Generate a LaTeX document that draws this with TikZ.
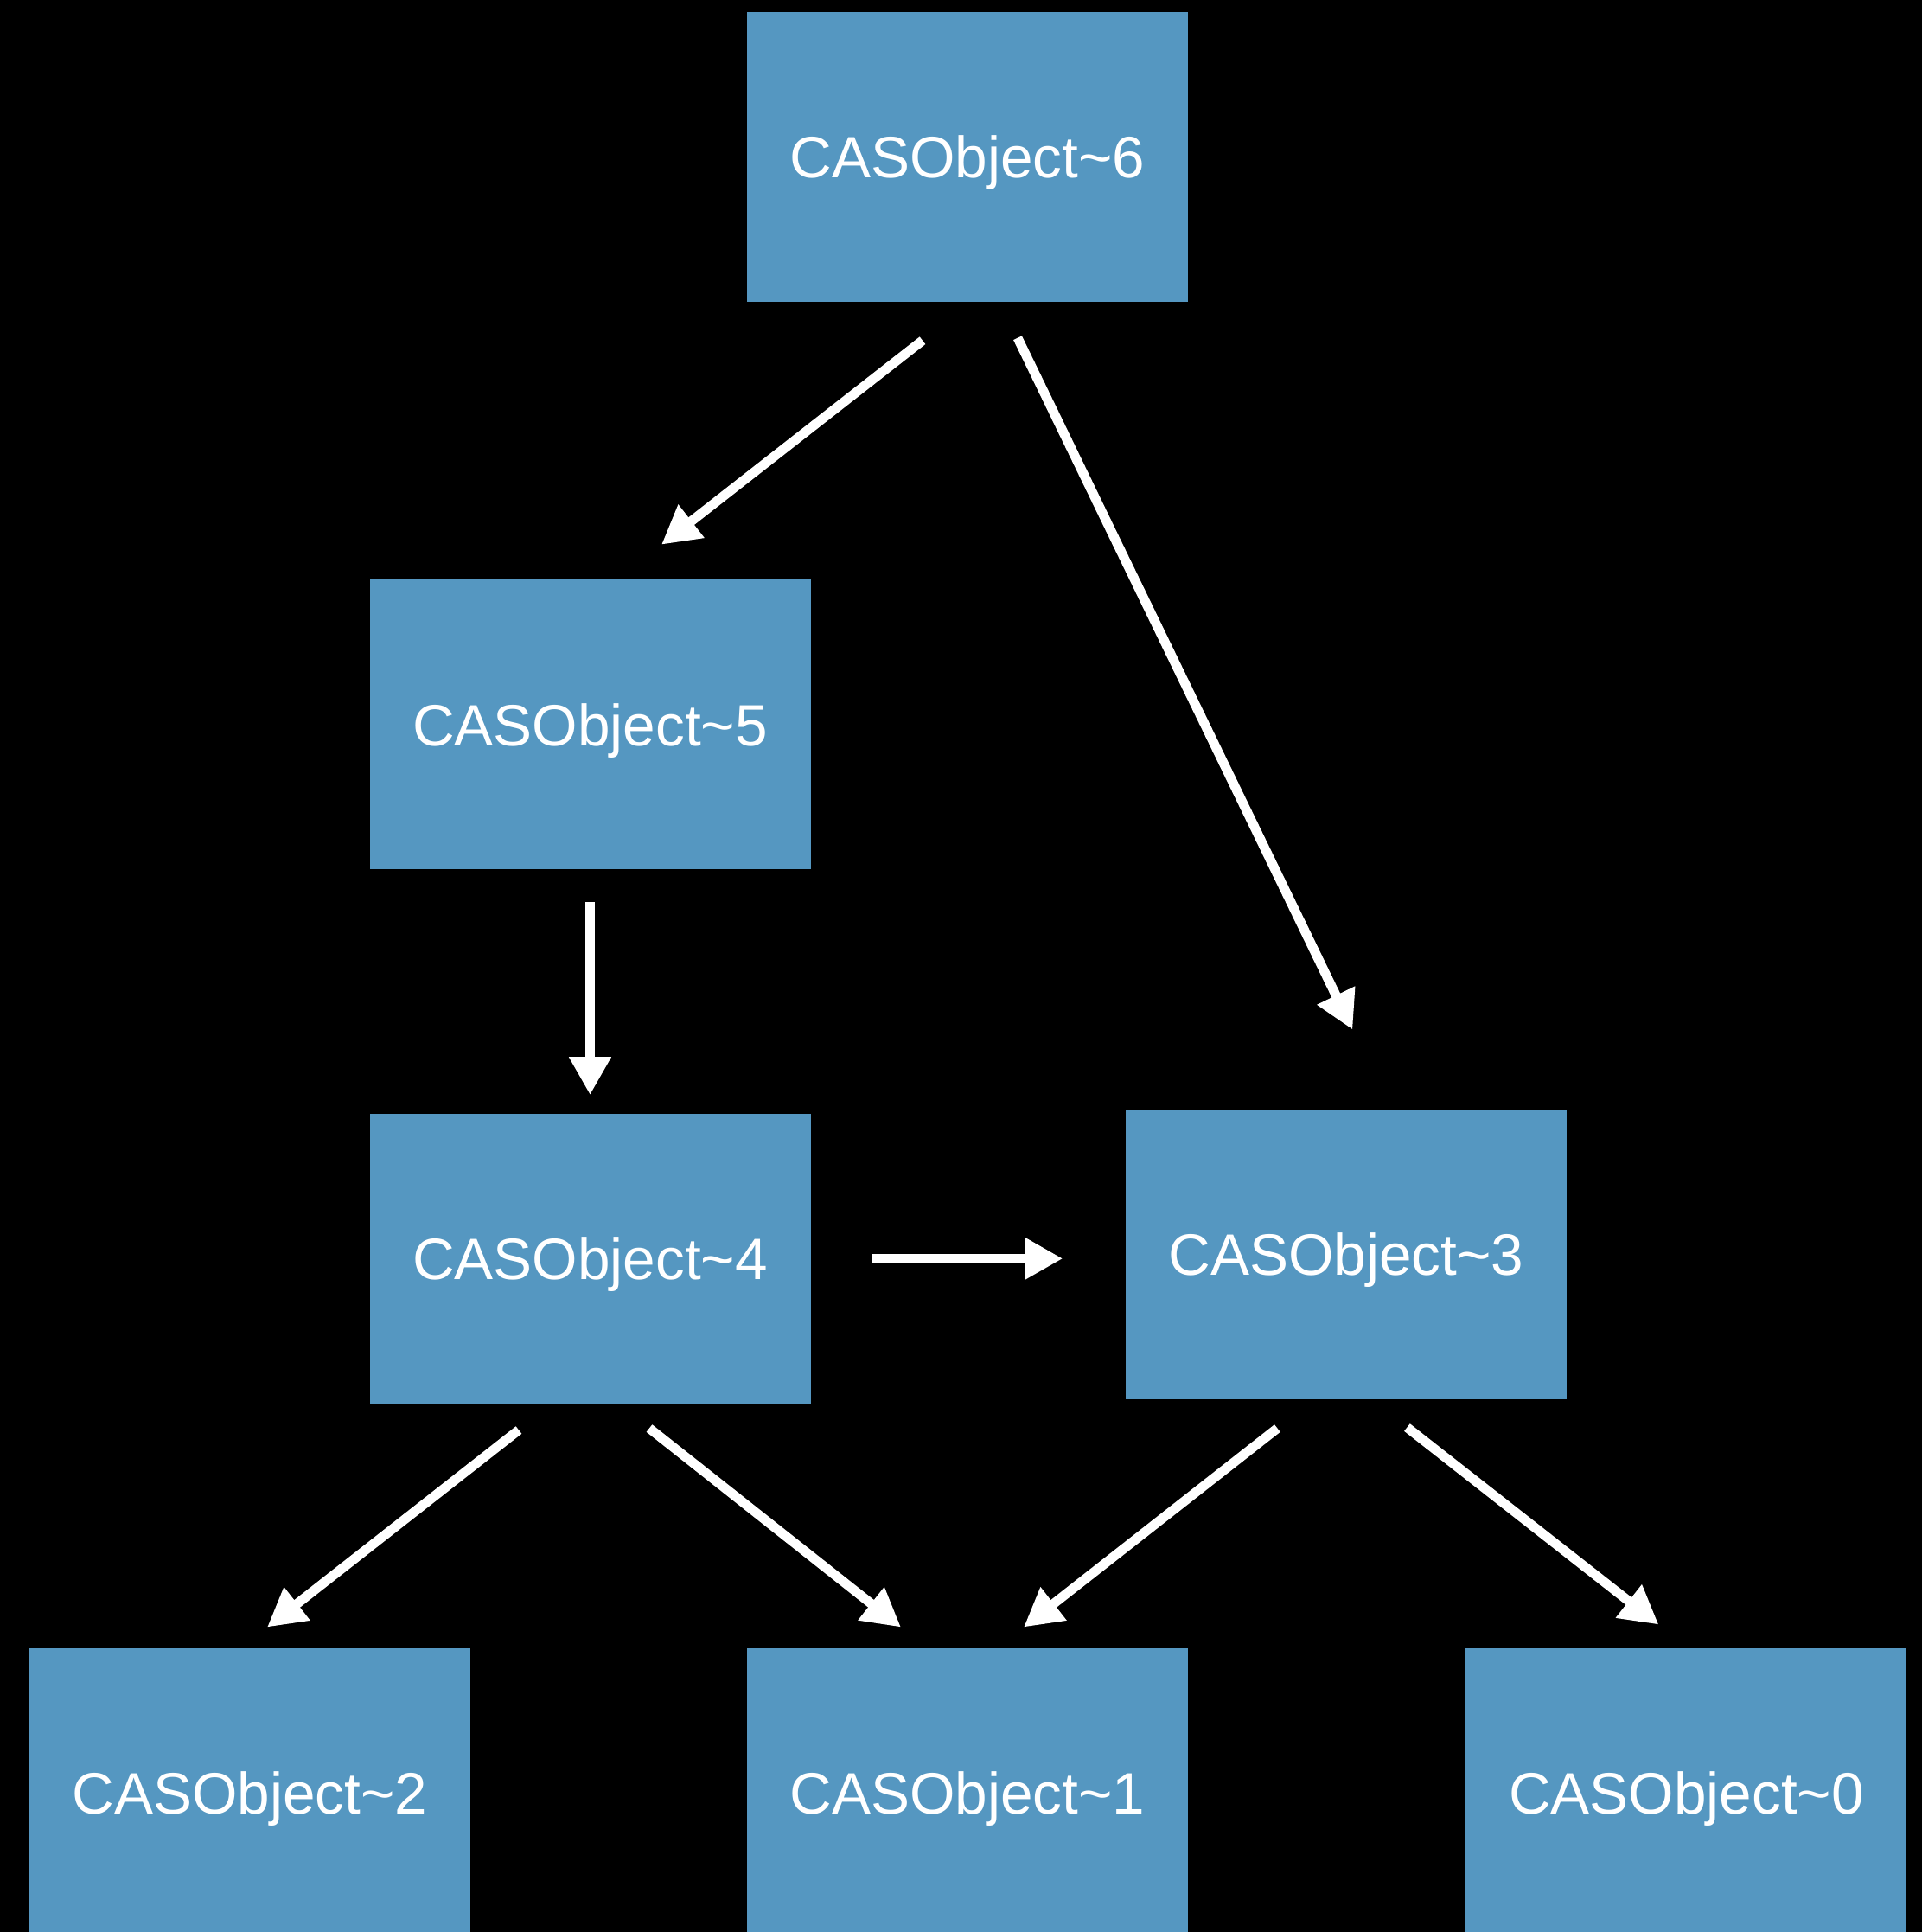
\documentclass[tikz,border=0pt]{standalone}
\usepackage{fontspec}
\setmainfont{Liberation Sans}
\usetikzlibrary{positioning, arrows.meta}

\definecolor{casblue}{RGB}{85,151,193}

\begin{document}
\begin{tikzpicture}[
  >={Triangle[length=4.4mm, width=4.6mm]},
  font=\fontsize{19.2pt}{23pt}\selectfont,
  obj/.style={rectangle, fill=casblue, text=white, minimum width=5.1cm, minimum height=3.35cm,
    inner sep=0pt, text height=13.75pt, text depth=0pt},
  link/.style={->, white, line width=3.1pt}
]
\fill[black] (0,0) rectangle (22.23,-22.34);
\useasboundingbox (0,0) rectangle (22.23,-22.34);

\node[obj] (obj6) at (11.19,-1.815) {CASObject\textasciitilde 6};
\node[obj, below=3.2cm of obj6, xshift=-4.365cm] (obj5) {CASObject\textasciitilde 5};
\node[obj, below=2.81cm of obj5] (obj4) {CASObject\textasciitilde 4};
\node[obj, right=3.63cm of obj4, yshift=0.05cm] (obj3) {CASObject\textasciitilde 3};
\node[obj, below=2.82cm of obj4, xshift=-3.935cm] (obj2) {CASObject\textasciitilde 2};
\node[obj, below=2.82cm of obj4, xshift=4.365cm] (obj1) {CASObject\textasciitilde 1};
\node[obj, below=2.87cm of obj3, xshift=3.935cm] (obj0) {CASObject\textasciitilde 0};

\draw[link] ([xshift=-5.2mm, yshift=-4.4mm]obj6.south) -- ([xshift=8.25mm, yshift=4mm]obj5.north);
\draw[link] ([xshift=5.8mm, yshift=-4.1mm]obj6.south) -- ([xshift=0.75mm, yshift=9.15mm]obj3.north);
\draw[link] ([yshift=-3.7mm]obj5.south) -- ([yshift=2.1mm]obj4.north);
\draw[link, shorten <=7mm, shorten >=7.2mm] (obj4.east) -- (obj4.east -| obj3.west);
\draw[link] ([xshift=-8.25mm, yshift=-3mm]obj4.south) -- ([xshift=2mm, yshift=2.4mm]obj2.north);
\draw[link] ([xshift=6.85mm, yshift=-2.8mm]obj4.south) -- ([xshift=-7.7mm, yshift=2.4mm]obj1.north);
\draw[link] ([xshift=-7.95mm, yshift=-3.3mm]obj3.south) -- ([xshift=6.5mm, yshift=2.4mm]obj1.north);
\draw[link] ([xshift=7.05mm, yshift=-3.2mm]obj3.south) -- ([xshift=-3.2mm, yshift=2.7mm]obj0.north);

\end{tikzpicture}
\end{document}
